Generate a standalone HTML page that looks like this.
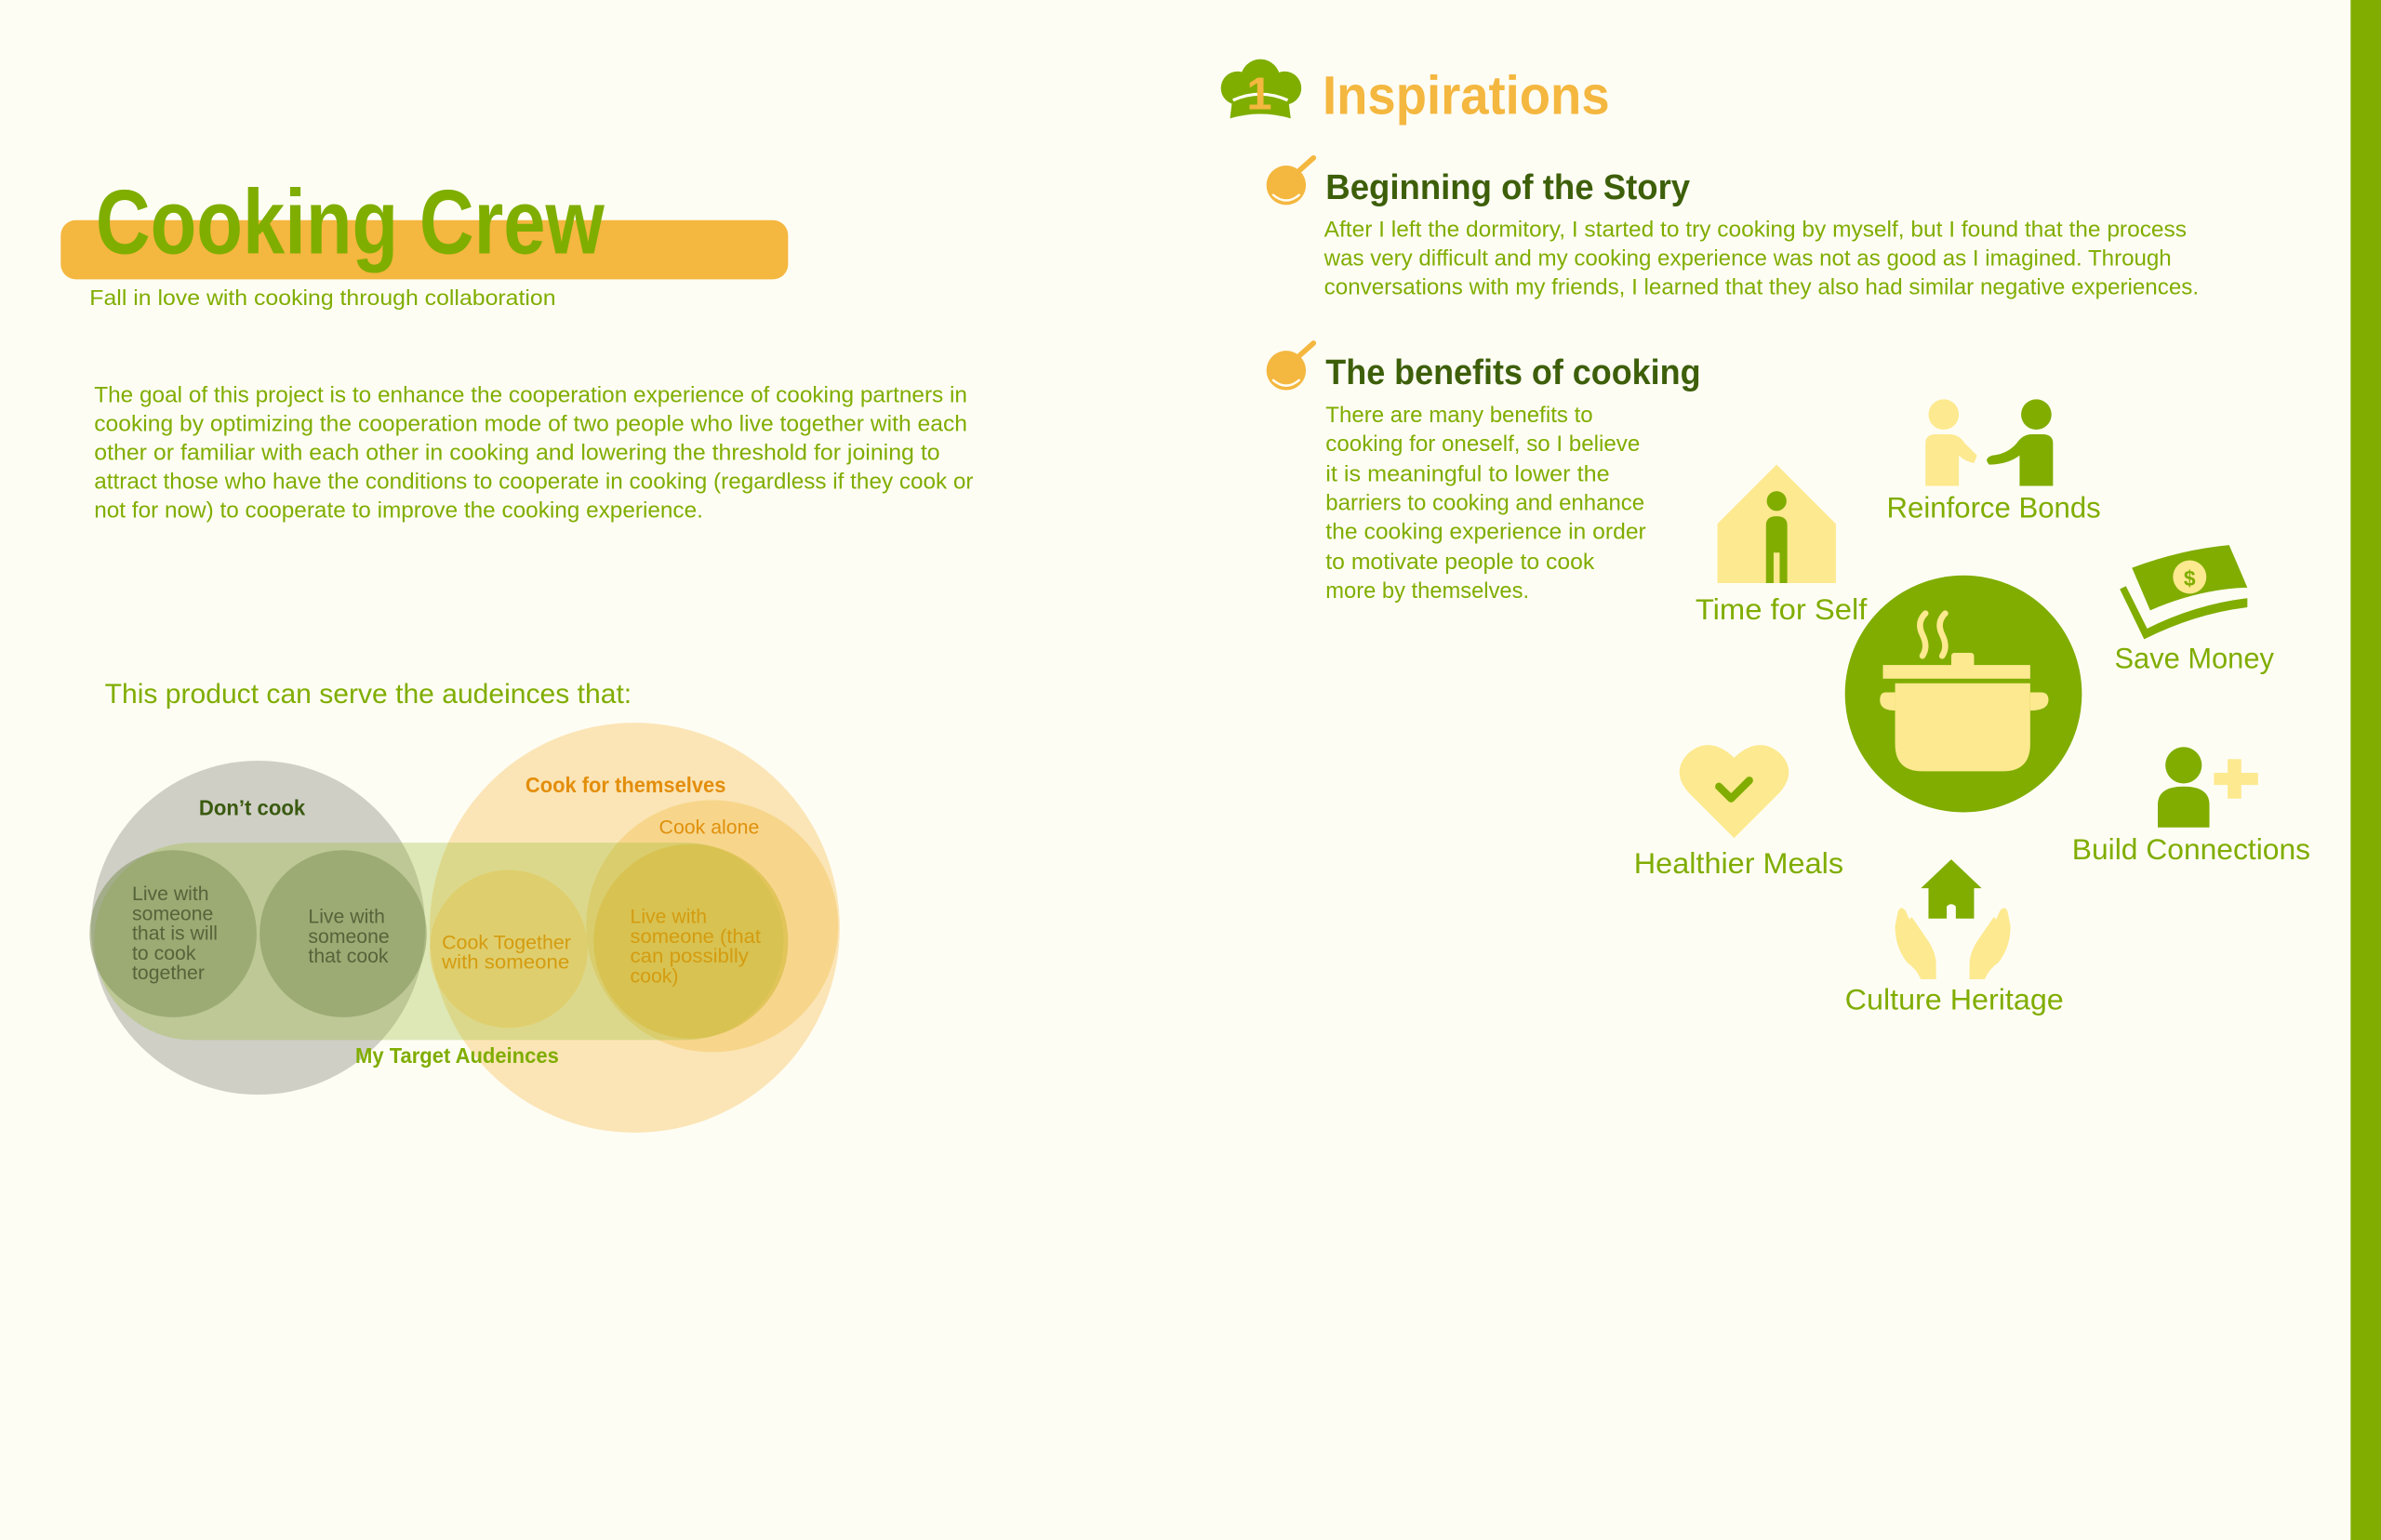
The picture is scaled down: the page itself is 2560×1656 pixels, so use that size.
<!DOCTYPE html>
<html><head><meta charset="utf-8"><style>
html,body{margin:0;padding:0;background:#fefdf4;}
svg{display:block;}
text{font-family:"Liberation Sans",sans-serif;}
</style></head><body>
<svg width="2560" height="1656" viewBox="0 0 1568 1014.3" preserveAspectRatio="none" xmlns="http://www.w3.org/2000/svg">
<rect x="0" y="0" width="1568" height="1015" fill="#fefdf4"/>
<rect x="1548" y="0" width="20" height="1015" fill="#80ad00"/>

<!-- Title -->
<rect x="40" y="145" width="479" height="39" rx="10" fill="#f4b73f"/>
<text x="63" y="167" font-size="60" font-weight="bold" fill="#7fae00" textLength="335" lengthAdjust="spacingAndGlyphs">Cooking Crew</text>
<text x="59" y="201" font-size="14" fill="#80ad00" textLength="307" lengthAdjust="spacingAndGlyphs">Fall in love with cooking through collaboration</text>

<g font-size="14.5" fill="#80ad00">
<text x="62" y="265" textLength="575" lengthAdjust="spacingAndGlyphs">The goal of this project is to enhance the cooperation experience of cooking partners in</text>
<text x="62" y="284" textLength="575" lengthAdjust="spacingAndGlyphs">cooking by optimizing the cooperation mode of two people who live together with each</text>
<text x="62" y="303" textLength="557" lengthAdjust="spacingAndGlyphs">other or familiar with each other in cooking and lowering the threshold for joining to</text>
<text x="62" y="322" textLength="579" lengthAdjust="spacingAndGlyphs">attract those who have the conditions to cooperate in cooking (regardless if they cook or</text>
<text x="62" y="341" textLength="401" lengthAdjust="spacingAndGlyphs">not for now) to cooperate to improve the cooking experience.</text>
</g>

<text x="69" y="463" font-size="18" fill="#80ad00" textLength="347" lengthAdjust="spacingAndGlyphs">This product can serve the audeinces that:</text>

<!-- Venn -->
<circle cx="170" cy="611" r="110" fill="#cfcfc6"/>
<circle cx="418" cy="611" r="135" fill="#fbe5b6"/>
<circle cx="469" cy="610" r="83" fill="#f7d68c"/>
<rect x="62" y="555" width="454" height="130" rx="65" fill="rgba(150,185,40,0.3)"/>
<circle cx="114" cy="615" r="55" fill="rgba(130,145,90,0.55)"/>
<circle cx="226" cy="615" r="55" fill="rgba(130,145,90,0.55)"/>
<circle cx="335" cy="625" r="52" fill="rgba(225,200,90,0.6)"/>
<circle cx="455" cy="620" r="64" fill="rgba(215,190,70,0.7)"/>

<text x="166" y="537" font-size="14" font-weight="bold" fill="#3a5a10" text-anchor="middle" textLength="70" lengthAdjust="spacingAndGlyphs">Don’t cook</text>
<text x="412" y="522" font-size="14" font-weight="bold" fill="#e38e0c" text-anchor="middle" textLength="132" lengthAdjust="spacingAndGlyphs">Cook for themselves</text>
<text x="467" y="549" font-size="13" fill="#e0900c" text-anchor="middle" textLength="66" lengthAdjust="spacingAndGlyphs">Cook alone</text>
<g font-size="13" fill="#56643a">
<text x="87" y="593">Live with</text>
<text x="87" y="606">someone</text>
<text x="87" y="619">that is will</text>
<text x="87" y="632">to cook</text>
<text x="87" y="645">together</text>
<text x="203" y="608">Live with</text>
<text x="203" y="621">someone</text>
<text x="203" y="634">that cook</text>
</g>
<g font-size="13" fill="#d49c10">
<text x="291" y="625" textLength="85" lengthAdjust="spacingAndGlyphs">Cook Together</text>
<text x="291" y="638" textLength="84" lengthAdjust="spacingAndGlyphs">with someone</text>
<text x="415" y="608">Live with</text>
<text x="415" y="621" textLength="86" lengthAdjust="spacingAndGlyphs">someone (that</text>
<text x="415" y="634" textLength="78" lengthAdjust="spacingAndGlyphs">can possiblly</text>
<text x="415" y="647">cook)</text>
</g>
<text x="301" y="700" font-size="14" font-weight="bold" fill="#80ad00" text-anchor="middle" textLength="134" lengthAdjust="spacingAndGlyphs">My Target Audeinces</text>

<!-- Inspirations header -->
<g fill="#7fae00">
<circle cx="815" cy="58" r="11"/>
<circle cx="846" cy="58" r="11"/>
<circle cx="830" cy="52" r="13"/>
<path d="M812 62 L848 62 L850 78 Q830 72 810 78 Z"/>
</g>
<path d="M812 66 Q830 58 848 66" stroke="#fefdf4" stroke-width="2" fill="none"/>
<text x="821" y="72" font-size="30" font-weight="bold" fill="#f4b73f">1</text>
<text x="871" y="75" font-size="36" font-weight="bold" fill="#f4b73f" textLength="189" lengthAdjust="spacingAndGlyphs">Inspirations</text>

<!-- pan icons -->
<g>
<circle cx="847" cy="122" r="13" fill="#f4b73f"/>
<path d="M838 128 Q847 136 856 128" stroke="#fefdf4" stroke-width="1.5" fill="none"/>
<line x1="856" y1="112" x2="865" y2="104" stroke="#f4b73f" stroke-width="3.5" stroke-linecap="round"/>
<circle cx="847" cy="244" r="13" fill="#f4b73f"/>
<path d="M838 250 Q847 258 856 250" stroke="#fefdf4" stroke-width="1.5" fill="none"/>
<line x1="856" y1="234" x2="865" y2="226" stroke="#f4b73f" stroke-width="3.5" stroke-linecap="round"/>
</g>

<text x="873" y="131" font-size="23" font-weight="bold" fill="#3d5f0a" textLength="240" lengthAdjust="spacingAndGlyphs">Beginning of the Story</text>
<g font-size="14.5" fill="#80ad00">
<text x="872" y="156" textLength="568" lengthAdjust="spacingAndGlyphs">After I left the dormitory, I started to try cooking by myself, but I found that the process</text>
<text x="872" y="175" textLength="558" lengthAdjust="spacingAndGlyphs">was very difficult and my cooking experience was not as good as I imagined. Through</text>
<text x="872" y="194" textLength="576" lengthAdjust="spacingAndGlyphs">conversations with my friends, I learned that they also had similar negative experiences.</text>
</g>

<text x="873" y="253" font-size="23" font-weight="bold" fill="#3d5f0a" textLength="247" lengthAdjust="spacingAndGlyphs">The benefits of cooking</text>
<g font-size="14.5" fill="#80ad00">
<text x="873" y="278" textLength="176" lengthAdjust="spacingAndGlyphs">There are many benefits to</text>
<text x="873" y="297" textLength="207" lengthAdjust="spacingAndGlyphs">cooking for oneself, so I believe</text>
<text x="873" y="317" textLength="187" lengthAdjust="spacingAndGlyphs">it is meaningful to lower the</text>
<text x="873" y="336" textLength="210" lengthAdjust="spacingAndGlyphs">barriers to cooking and enhance</text>
<text x="873" y="355" textLength="211" lengthAdjust="spacingAndGlyphs">the cooking experience in order</text>
<text x="873" y="375" textLength="177" lengthAdjust="spacingAndGlyphs">to motivate people to cook</text>
<text x="873" y="394" textLength="134" lengthAdjust="spacingAndGlyphs">more by themselves.</text>
</g>

<!-- Central pot -->
<circle cx="1293" cy="457" r="78" fill="#80ad00"/>
<g fill="#fde98f">
<rect x="1240" y="438" width="97" height="9"/>
<rect x="1285" y="430" width="15" height="10" rx="2"/>
<path d="M1248 450 L1337 450 L1337 490 Q1337 508 1319 508 L1266 508 Q1248 508 1248 490 Z"/>
<path d="M1248 456 L1242 456 Q1238 456 1238 461 Q1238 468 1248 468 Z"/>
<path d="M1337 456 L1344 456 Q1349 456 1349 461 Q1349 468 1337 468 Z"/>
</g>
<g stroke="#fde98f" stroke-width="4" fill="none" stroke-linecap="round">
<path d="M1268 404 Q1262 410 1266 418 Q1270 426 1266 432"/>
<path d="M1281 404 Q1275 410 1279 418 Q1283 426 1279 432"/>
</g>

<!-- Reinforce bonds -->
<circle cx="1280" cy="273" r="10" fill="#fde98f"/>
<path d="M1268 292 Q1268 286 1275 286 L1284 286 Q1290 286 1294 292 L1302 300 L1300 305 Q1294 304 1290 300 L1290 320 L1268 320 Z" fill="#fde98f"/>
<circle cx="1341" cy="273" r="10" fill="#80ad00"/>
<path d="M1352 292 Q1352 286 1345 286 L1338 286 Q1332 286 1328 292 Q1322 299 1312 300 Q1306 302 1310 306 Q1322 306 1330 300 L1330 320 L1352 320 Z" fill="#80ad00"/>
<text x="1313" y="341" font-size="19" fill="#80ad00" text-anchor="middle" textLength="141" lengthAdjust="spacingAndGlyphs">Reinforce Bonds</text>

<!-- Time for self -->
<path d="M1131 345 L1170 306 L1209 345 L1209 384 L1131 384 Z" fill="#fde98f"/>
<circle cx="1170" cy="330" r="6.5" fill="#80ad00"/>
<path d="M1163 346 Q1163 340 1170 340 Q1177 340 1177 346 L1177 384 L1172 384 L1172 364 L1168 364 L1168 384 L1163 384 Z" fill="#80ad00"/>
<text x="1173" y="408" font-size="19" fill="#80ad00" text-anchor="middle" textLength="113" lengthAdjust="spacingAndGlyphs">Time for Self</text>

<!-- Save money -->
<path d="M1404 374 Q1436 362 1468 359 L1480 387 Q1448 388 1416 402 Z" fill="#80ad00"/>
<circle cx="1442" cy="380" r="11" fill="#fde98f"/>
<text x="1442" y="386" font-size="14" font-weight="bold" fill="#80ad00" text-anchor="middle">$</text>
<path d="M1396 388 L1400 386 L1414 414 Q1446 398 1480 394 L1480 400 Q1446 404 1412 421 Z" fill="#80ad00"/>
<text x="1445" y="440" font-size="19" fill="#80ad00" text-anchor="middle" textLength="105" lengthAdjust="spacingAndGlyphs">Save Money</text>

<!-- Healthier meals -->
<path d="M1142 552 L1112 522 Q1100 508 1112 496 Q1126 484 1142 499 Q1158 484 1172 496 Q1184 508 1172 522 Z" fill="#fde98f"/>
<path d="M1132 518 L1140 526 L1152 514" stroke="#80ad00" stroke-width="5" fill="none" stroke-linecap="round" stroke-linejoin="round"/>
<text x="1145" y="575" font-size="19" fill="#80ad00" text-anchor="middle" textLength="138" lengthAdjust="spacingAndGlyphs">Healthier Meals</text>

<!-- Build connections -->
<circle cx="1438" cy="504" r="12" fill="#80ad00"/>
<path d="M1421 545 L1421 530 Q1421 518 1438 518 Q1455 518 1455 530 L1455 545 Z" fill="#80ad00"/>
<rect x="1467" y="500" width="9" height="26" fill="#fde98f"/>
<rect x="1458" y="509" width="29" height="8" fill="#fde98f"/>
<text x="1443" y="566" font-size="19" fill="#80ad00" text-anchor="middle" textLength="157" lengthAdjust="spacingAndGlyphs">Build Connections</text>

<!-- Culture heritage -->
<path d="M1285 566 L1305 585 L1300 585 L1300 605 L1288 605 L1288 597 Q1285 594 1282 597 L1282 605 L1270 605 L1270 585 L1265 585 Z" fill="#80ad00"/>
<g fill="#fde98f">
<path d="M1250 600 Q1252 596 1255 600 L1262 616 L1258 610 Q1256 606 1259 604 L1270 620 Q1275 628 1275 635 L1275 645 L1265 645 Q1262 638 1256 634 Q1248 624 1248 610 Z"/>
<path d="M1322 600 Q1320 596 1317 600 L1310 616 L1314 610 Q1316 606 1313 604 L1302 620 Q1297 628 1297 635 L1297 645 L1307 645 Q1310 638 1316 634 Q1324 624 1324 610 Z"/>
</g>
<text x="1287" y="665" font-size="19" fill="#80ad00" text-anchor="middle" textLength="144" lengthAdjust="spacingAndGlyphs">Culture Heritage</text>
</svg>
</body></html>
